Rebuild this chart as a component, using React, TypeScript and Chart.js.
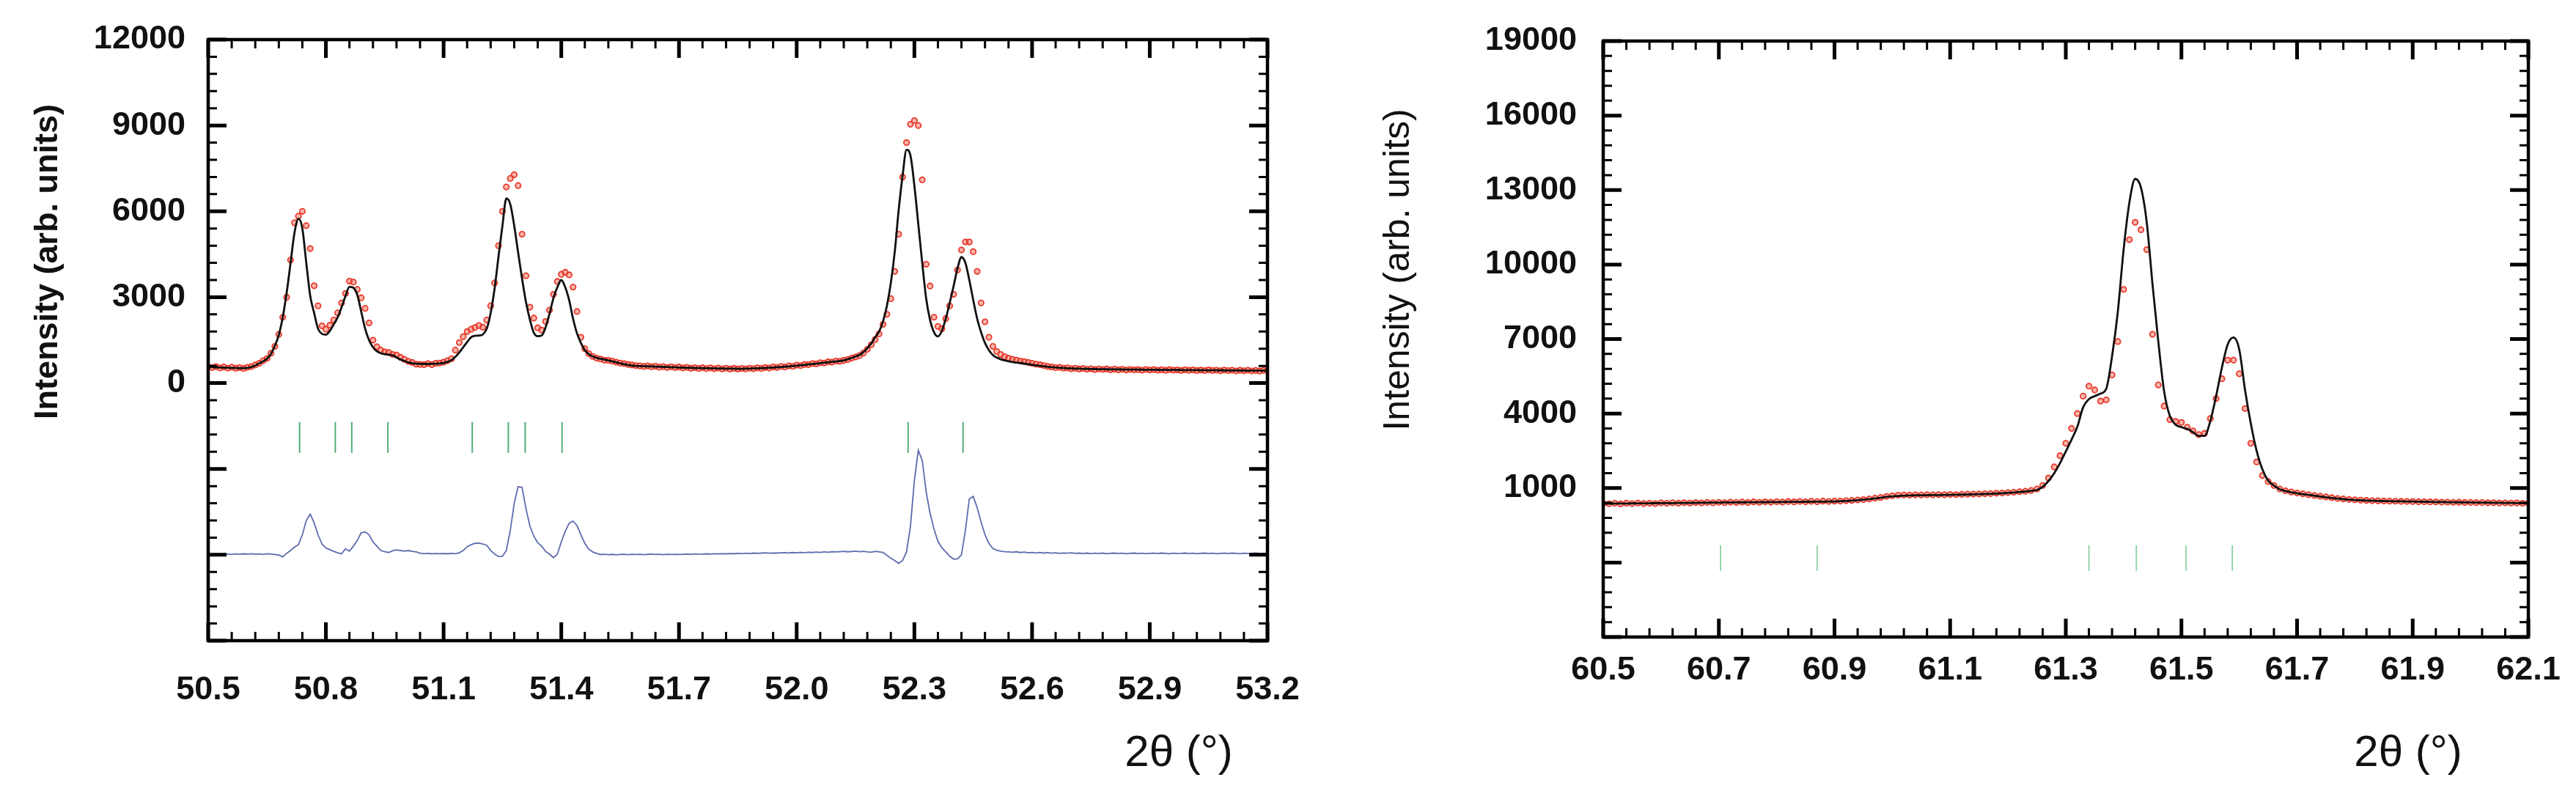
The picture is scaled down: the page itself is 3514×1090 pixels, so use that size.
import { useEffect, useRef } from "react";
import { Chart, registerables } from "chart.js";

Chart.register(...registerables);

const FONT = '"Liberation Sans", Arial, Helvetica, sans-serif';
const PAGE_W = 3514;
const PAGE_H = 1090;

// ---- left panel: 2θ from 50.50° to 53.20°, one value every 0.01° ----
const LEFT_START = 50.5;
const LEFT_STEP = 0.01;

const LEFT_OBS = [
  580, 540, 575, 530, 560, 520, 555, 515, 540, 510,
  550, 575, 630, 690, 780, 860, 1040, 1280, 1700, 2300,
  3000, 4300, 5600, 5830, 6000, 5500, 4700, 3400, 2700, 2000,
  1880, 2020, 2200, 2450, 2800, 3130, 3560, 3530, 3270, 2980,
  2610, 2100, 1500, 1270, 1150, 1090, 1070, 1000, 980, 900,
  830, 760, 720, 660, 650, 640, 680, 645, 690, 700,
  730, 780, 850, 1150, 1414, 1620, 1800, 1880, 1940, 2010,
  1950, 2200, 2700, 3500, 4800, 6000, 6850, 7150, 7280, 6900,
  5200, 3750, 2650, 2270, 1930, 1850, 2150, 2550, 3100, 3550,
  3800, 3870, 3780, 3350, 2500, 1600, 1200, 1030, 930, 870,
  840, 800, 790, 770, 730, 700, 680, 650, 630, 610,
  600, 580, 600, 570, 590, 555, 575, 545, 570, 540,
  560, 530, 550, 515, 540, 510, 535, 505, 530, 500,
  525, 495, 520, 490, 515, 490, 510, 495, 520, 500,
  530, 510, 545, 525, 560, 545, 580, 560, 600, 585,
  625, 610, 650, 640, 680, 670, 710, 700, 740, 730,
  770, 760, 790, 820, 870, 910, 960, 1050, 1180, 1340,
  1520, 1720, 2050, 2400, 2950, 3900, 5200, 7200, 8400, 9040,
  9170, 9000, 7100, 4150, 3390, 2300, 1980, 1900, 2250, 2700,
  3100, 3950, 4650, 4930, 4930, 4590, 3900, 2800, 2140, 1600,
  1280, 1100, 1000, 920, 870, 830, 800, 770, 750, 720,
  690, 660, 640, 610, 580, 560, 540, 550, 520, 530,
  500, 520, 490, 510, 480, 500, 470, 495, 475, 490,
  465, 485, 460, 480, 455, 475, 460, 470, 450, 475,
  455, 470, 450, 465, 445, 470, 450, 460, 440, 465,
  445, 460, 440, 455, 435, 460, 440, 450, 430, 455,
  435, 450, 425, 445, 430, 450, 425, 440, 420, 445,
  430,
];

const LEFT_CALC = [
  560, 555, 550, 545, 540, 535, 530, 525, 520, 520,
  530, 560, 610, 686, 760, 850, 1020, 1300, 1680, 2300,
  3150, 4200, 5250, 5740, 5400, 4200, 3050, 2450, 1900, 1720,
  1690, 1820, 2050, 2300, 2650, 3040, 3360, 3330, 3080, 2500,
  1900, 1500, 1250, 1110, 1040, 1010, 990, 970, 900, 820,
  770, 720, 690, 675, 670, 668, 668, 670, 675, 682,
  700, 740, 800, 920, 1070, 1250, 1430, 1600, 1650, 1660,
  1700, 1900, 2450, 3300, 4420, 5500, 6450, 6250, 5500, 4560,
  3650, 2830, 2215, 1760, 1640, 1660, 1950, 2420, 2970, 3350,
  3600, 3350, 2900, 2250, 1740, 1400, 1150, 1010, 930, 880,
  850, 820, 790, 760, 720, 690, 660, 630, 610, 600,
  595, 590, 585, 580, 575, 570, 565, 560, 555, 550,
  545, 540, 535, 530, 527, 524, 521, 518, 515, 512,
  510, 508, 506, 504, 502, 500, 500, 502, 505, 510,
  515, 520, 527, 535, 543, 552, 562, 572, 583, 595,
  608, 620, 635, 650, 665, 680, 695, 710, 725, 740,
  755, 770, 790, 830, 880, 930, 980, 1080, 1220, 1380,
  1600, 1800, 2150, 2700, 3500, 4590, 6050, 7250, 8150, 7950,
  6900, 5550, 4200, 2960, 2200, 1780, 1630, 1820, 2250, 2800,
  3390, 4010, 4400, 4200, 3600, 2900, 2250, 1780, 1400, 1150,
  980, 890, 830, 790, 760, 735, 715, 700, 680, 660,
  640, 620, 600, 585, 570, 555, 545, 535, 525, 517,
  510, 506, 502, 498, 495, 492, 489, 486, 484, 482,
  480, 478, 477, 475, 474, 472, 471, 470, 468, 467,
  466, 465, 463, 462, 461, 460, 458, 457, 456, 455,
  453, 452, 451, 450, 449, 447, 446, 445, 444, 443,
  441, 440, 439, 438, 437, 436, 435, 434, 433, 432,
  431,
];

// difference curve as plotted (drawn 6000 below zero)
const LEFT_DIFF = [
  -5970, -5985, -5965, -5980, -5960, -5975, -5990, -5970, -5980, -5965,
  -5975, -5960, -5980, -5970, -5985, -5960, -5975, -5990, -6010, -6070,
  -5950, -5850, -5730, -5650, -5300, -4800, -4580, -4880, -5300, -5620,
  -5760, -5820, -5880, -5930, -5965, -5790, -5870, -5700, -5500, -5230,
  -5200, -5300, -5550, -5700, -5850, -5890, -5920, -5860, -5830, -5850,
  -5870, -5850, -5880, -5900, -5945, -5960, -5950, -5965, -5955, -5960,
  -5955, -5965, -5950, -5960, -5930, -5850, -5720, -5650, -5600, -5590,
  -5620, -5670, -5850, -5973, -6060, -6050, -5850, -5150, -4200, -3620,
  -3650, -4380, -5000, -5350, -5580, -5700, -5880, -5980, -6100, -5980,
  -5550, -5180, -4900, -4820, -4980, -5300, -5600, -5800, -5900, -5950,
  -5990, -5980, -5995, -5985, -6000, -5990, -5980, -5995, -5985, -5990,
  -5980, -5995, -5985, -5975, -5990, -5980, -5995, -5985, -5990, -5980,
  -5990, -5980, -5975, -5985, -5970, -5980, -5975, -5965, -5975, -5960,
  -5970, -5960, -5965, -5955, -5965, -5950, -5960, -5945, -5955, -5940,
  -5950, -5940, -5930, -5945, -5935, -5940, -5930, -5925, -5935, -5920,
  -5930, -5915, -5925, -5910, -5920, -5905, -5915, -5900, -5910, -5895,
  -5900, -5890, -5880, -5895, -5885, -5875, -5890, -5880, -5900, -5910,
  -5880, -5900, -5920, -6020, -6120, -6200, -6300, -6200, -5900, -5000,
  -3400, -2350, -2700, -3800, -4550, -5100, -5530, -5750, -5900, -6050,
  -6150, -6140, -6000, -5150, -4050, -3960, -4350, -4850, -5300, -5600,
  -5780, -5840, -5870, -5890, -5900, -5910, -5895, -5920, -5905, -5930,
  -5915, -5935, -5920, -5940, -5925, -5945, -5930, -5950, -5935, -5945,
  -5930, -5950, -5940, -5955, -5940, -5960, -5945, -5955, -5940, -5960,
  -5950, -5940, -5955, -5945, -5960, -5950, -5940, -5955, -5945, -5960,
  -5950, -5945, -5955, -5940, -5950, -5960, -5945, -5955, -5950, -5940,
  -5955, -5945, -5960, -5950, -5940, -5955, -5945, -5960, -5950, -5945,
  -5955, -5940, -5950, -5960, -5945, -5955, -5950, -5940, -5955, -5950,
  -5950,
];

const LEFT_REFLECTIONS = [50.733, 50.824, 50.866, 50.958, 51.173, 51.265, 51.308, 51.402, 52.284, 52.424];
const LEFT_X_TICKS = [50.5, 50.8, 51.1, 51.4, 51.7, 52.0, 52.3, 52.6, 52.9, 53.2];
const LEFT_Y_TICKS = [0, 3000, 6000, 9000, 12000];

// ---- right panel: 2θ from 60.50° to 62.10°, one value every 0.01° ----
const RIGHT_START = 60.5;
const RIGHT_STEP = 0.01;

const RIGHT_OBS = [
  380, 365, 385, 360, 390, 370, 395, 375, 385, 370,
  400, 385, 405, 390, 410, 395, 415, 400, 420, 405,
  425, 410, 430, 415, 435, 420, 440, 425, 445, 430,
  450, 435, 455, 440, 460, 445, 465, 450, 470, 460,
  470, 475, 490, 500, 520, 535, 560, 590, 620, 660,
  690, 710, 720, 715, 725, 720, 730, 725, 735, 730,
  740, 735, 745, 750, 755, 760, 770, 775, 790, 800,
  815, 830, 850, 870, 900, 960, 1100, 1400, 1850, 2300,
  2800, 3400, 4000, 4700, 5100, 4950, 4500, 4550, 5550, 6900,
  9000, 11000, 11700, 11400, 10600, 7190, 5150, 4300, 3750, 3680,
  3640, 3450, 3300, 3150, 3200, 3800, 4600, 5400, 6150, 6150,
  5600, 4200, 2800, 2050, 1500, 1260, 1100, 960, 890, 840,
  800, 765, 730, 700, 670, 640, 610, 580, 560, 540,
  525, 510, 500, 490, 485, 478, 472, 468, 462, 458,
  455, 448, 447, 440, 440, 432, 432, 425, 426, 418,
  420, 412, 414, 406, 408, 400, 402, 395, 396, 388,
  390,
];

const RIGHT_CALC = [
  370, 372, 374, 376, 378, 380, 382, 384, 386, 388,
  390, 392, 394, 396, 398, 400, 403, 406, 409, 412,
  415, 418, 420, 422, 424, 426, 428, 430, 432, 434,
  436, 438, 440, 442, 444, 446, 448, 450, 452, 455,
  460, 470, 480, 495, 510, 530, 555, 580, 610, 640,
  665, 682, 695, 702, 706, 709, 712, 715, 718, 722,
  725, 730, 735, 740, 745, 752, 760, 768, 778, 790,
  805, 820, 840, 860, 885, 920, 1050, 1280, 1600, 2000,
  2470, 2950, 3470, 4250, 4580, 4700, 4800, 5000, 6300, 8100,
  10600, 12500, 13450, 13100, 11700, 9200, 6900, 4900, 3900, 3550,
  3450, 3380, 3250, 3100, 3100, 3700, 4700, 5850, 6780, 7060,
  6580, 4950, 3600, 2500, 1750, 1300, 1100, 950, 880, 830,
  790, 750, 725, 690, 660, 630, 600, 575, 550, 530,
  515, 505, 495, 488, 482, 476, 470, 466, 462, 458,
  455, 450, 446, 442, 438, 434, 430, 427, 424, 421,
  418, 415, 412, 409, 406, 403, 400, 397, 394, 391,
  388,
];

const RIGHT_REFLECTIONS = [60.703, 60.87, 61.34, 61.422, 61.508, 61.588];
const RIGHT_X_TICKS = [60.5, 60.7, 60.9, 61.1, 61.3, 61.5, 61.7, 61.9, 62.1];
const RIGHT_Y_TICKS = [1000, 4000, 7000, 10000, 13000, 16000, 19000];

const Y_TITLE = "Intensity (arb. units)";
const X_TITLE = "2θ (°)";

const LEFT_PANEL = {
  left: 0, width: 1800,
  start: LEFT_START, step: LEFT_STEP,
  obs: LEFT_OBS, calc: LEFT_CALC, diff: LEFT_DIFF,
  reflections: LEFT_REFLECTIONS, xTicks: LEFT_X_TICKS, yTicks: LEFT_Y_TICKS,
  yMin: -9000, yMax: 12000, xMinor: 0.06, yMinor: 600,
  reflY: -1900, reflHalf: 21, reflColor: "#52ad78", reflWidth: 2,
  top: 54, right: 71, yAxisWidth: 284, xAxisHeight: 216,
  yLabelPad: 31, xLabelPad: 45,
  yTitle: { x: 66, y: 357, font: `bold 45px ${FONT}` },
  xTitle: { x: 1608, y: 1028 },
};

const RIGHT_PANEL = {
  left: 1757, width: 1757,
  start: RIGHT_START, step: RIGHT_STEP,
  obs: RIGHT_OBS, calc: RIGHT_CALC, diff: null,
  reflections: RIGHT_REFLECTIONS, xTicks: RIGHT_X_TICKS, yTicks: RIGHT_Y_TICKS,
  yMin: -5000, yMax: 19000, xMinor: 0.04, yMinor: 600,
  reflY: -1820, reflHalf: 17.5, reflColor: "#8ccfa4", reflWidth: 1.8,
  top: 56, right: 65, yAxisWidth: 430, xAxisHeight: 221,
  yLabelPad: 36, xLabelPad: 23,
  yTitle: { x: 151, y: 368, font: `50px ${FONT}` },
  xTitle: { x: 1528, y: 1028 },
};

type PanelSpec = typeof LEFT_PANEL;

const toPoints = (start: number, step: number, ys: number[]) =>
  ys.map((y, i) => ({ x: Math.round((start + i * step) * 1000) / 1000, y }));

function framePlugin(spec: PanelSpec) {
  return {
    id: "frameAndTitles",
    afterDatasetsDraw(chart: Chart) {
      const { ctx, chartArea: a } = chart;
      const xs = chart.scales.x;
      const ys = chart.scales.y;
      const xMin = spec.xTicks[0];
      const xMax = spec.xTicks[spec.xTicks.length - 1];
      ctx.save();
      ctx.strokeStyle = "#000";
      ctx.lineCap = "butt";

      const nx = Math.round((xMax - xMin) / spec.xMinor);
      for (let i = 0; i <= nx; i++) {
        const px = xs.getPixelForValue(xMin + i * spec.xMinor);
        const major = i % 5 === 0;
        const len = major ? 25 : 12;
        ctx.lineWidth = major ? 5 : 3;
        ctx.beginPath();
        ctx.moveTo(px, a.bottom);
        ctx.lineTo(px, a.bottom - len);
        ctx.moveTo(px, a.top);
        ctx.lineTo(px, a.top + len);
        ctx.stroke();
      }

      const ny = Math.round((spec.yMax - spec.yMin) / spec.yMinor);
      for (let i = 0; i <= ny; i++) {
        const py = ys.getPixelForValue(spec.yMin + i * spec.yMinor);
        const major = i % 5 === 0;
        const len = major ? 25 : 12;
        ctx.lineWidth = major ? 5 : 3;
        ctx.beginPath();
        ctx.moveTo(a.left, py);
        ctx.lineTo(a.left + len, py);
        ctx.moveTo(a.right, py);
        ctx.lineTo(a.right - len, py);
        ctx.stroke();
      }

      ctx.lineWidth = 4.5;
      ctx.strokeRect(a.left, a.top, a.right - a.left, a.bottom - a.top);
      ctx.restore();
    },
    afterDraw(chart: Chart) {
      const { ctx } = chart;
      ctx.save();
      ctx.fillStyle = "#111";
      ctx.textAlign = "center";
      ctx.textBaseline = "middle";
      ctx.font = spec.yTitle.font;
      ctx.translate(spec.yTitle.x, spec.yTitle.y);
      ctx.rotate(-Math.PI / 2);
      ctx.fillText(Y_TITLE, 0, 0);
      ctx.restore();

      ctx.save();
      ctx.fillStyle = "#111";
      ctx.textAlign = "center";
      ctx.textBaseline = "middle";
      ctx.font = `60px ${FONT}`;
      ctx.fillText(X_TITLE, spec.xTitle.x, spec.xTitle.y);
      ctx.restore();
    },
  };
}

function buildConfig(spec: PanelSpec): any {
  const datasets: any[] = [
    {
      label: "calculated",
      data: toPoints(spec.start, spec.step, spec.calc),
      showLine: true,
      borderColor: "#111111",
      borderWidth: 2.8,
      pointRadius: 0,
      cubicInterpolationMode: "monotone",
      order: 0,
    },
    {
      label: "observed",
      data: toPoints(spec.start, spec.step, spec.obs),
      showLine: false,
      pointRadius: 3.7,
      pointBorderWidth: 1.8,
      borderColor: "rgba(230, 45, 30, 0.92)",
      backgroundColor: "rgba(242, 110, 90, 0.5)",
      order: 1,
    },
  ];
  if (spec.diff) {
    datasets.push({
      label: "difference",
      data: toPoints(spec.start, spec.step, spec.diff),
      showLine: true,
      borderColor: "#5d6cae",
      borderWidth: 1.8,
      pointRadius: 0,
      order: 2,
    });
  }
  datasets.push({
    label: "reflections",
    data: spec.reflections.map((x) => ({ x, y: spec.reflY })),
    showLine: false,
    pointStyle: "line",
    pointRotation: 90,
    pointRadius: spec.reflHalf,
    pointBorderWidth: spec.reflWidth,
    borderColor: spec.reflColor,
    backgroundColor: spec.reflColor,
    order: 3,
  });

  const tickFont = { family: FONT, size: 45, weight: "bold" as const, lineHeight: 1 };

  return {
    type: "scatter",
    data: { datasets },
    options: {
      animation: false,
      responsive: false,
      events: [],
      layout: {
        autoPadding: false,
        padding: { left: 0, top: spec.top, right: spec.right, bottom: 0 },
      },
      plugins: { legend: { display: false }, tooltip: { enabled: false } },
      scales: {
        x: {
          type: "linear",
          min: spec.xTicks[0],
          max: spec.xTicks[spec.xTicks.length - 1],
          afterBuildTicks: (s: any) => {
            s.ticks = spec.xTicks.map((v) => ({ value: v }));
          },
          afterFit: (s: any) => {
            s.height = spec.xAxisHeight;
            s.paddingLeft = 0;
            s.paddingRight = 0;
          },
          grid: { display: false, drawTicks: false },
          border: { display: false },
          ticks: {
            padding: spec.xLabelPad,
            font: tickFont,
            color: "#111",
            maxRotation: 0,
            autoSkip: false,
            callback: (v: any) => Number(v).toFixed(1),
          },
        },
        y: {
          type: "linear",
          min: spec.yMin,
          max: spec.yMax,
          afterBuildTicks: (s: any) => {
            s.ticks = spec.yTicks.map((v) => ({ value: v }));
          },
          afterFit: (s: any) => {
            s.width = spec.yAxisWidth;
            s.paddingTop = 0;
            s.paddingBottom = 0;
          },
          grid: { display: false, drawTicks: false },
          border: { display: false },
          ticks: {
            padding: spec.yLabelPad,
            font: tickFont,
            color: "#111",
            autoSkip: false,
            callback: (v: any) => String(v),
          },
        },
      },
    },
    plugins: [framePlugin(spec)],
  };
}

function Panel({ spec }: { spec: PanelSpec }) {
  const canvasRef = useRef<HTMLCanvasElement>(null);

  useEffect(() => {
    if (!canvasRef.current) return;
    const chart = new Chart(canvasRef.current, buildConfig(spec));
    return () => {
      chart.destroy();
    };
  }, [spec]);

  return (
    <canvas
      ref={canvasRef}
      width={spec.width}
      height={PAGE_H}
      style={{ position: "absolute", left: spec.left, top: 0, width: spec.width, height: PAGE_H }}
    />
  );
}

export default function App() {
  return (
    <div
      style={{
        position: "absolute",
        left: 0,
        top: 0,
        width: PAGE_W,
        height: PAGE_H,
        overflow: "hidden",
        background: "#fff",
      }}
    >
      <Panel spec={LEFT_PANEL} />
      <Panel spec={RIGHT_PANEL as PanelSpec} />
    </div>
  );
}
